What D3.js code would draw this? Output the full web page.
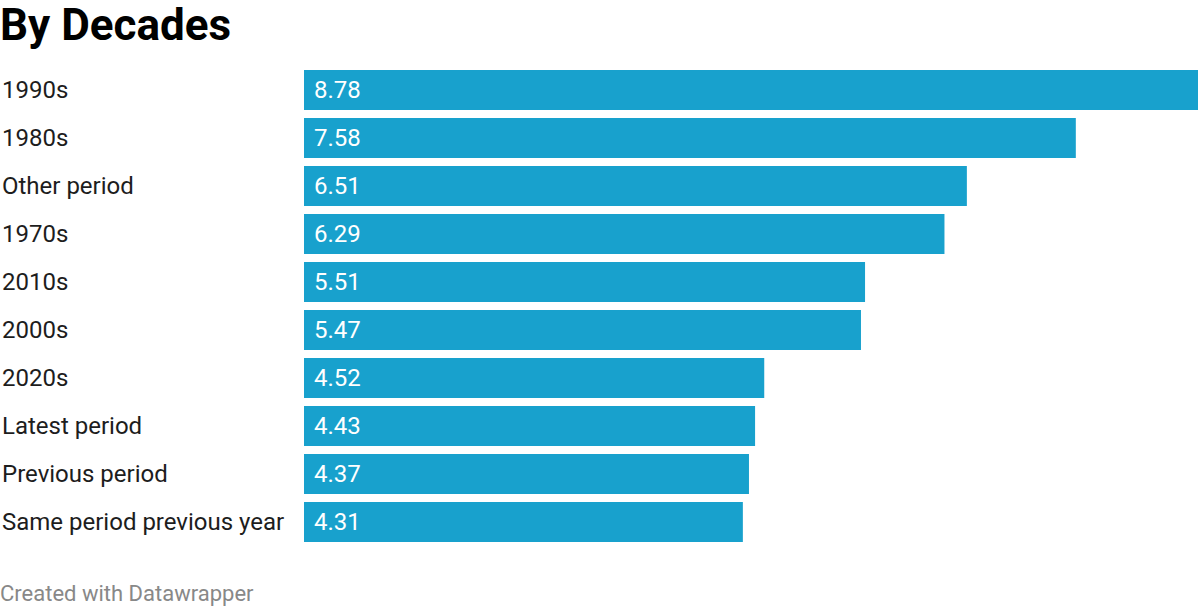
<!DOCTYPE html>
<html>
<head>
<meta charset="utf-8">
<script src="https://cdn.jsdelivr.net/npm/d3@7"></script>
<style>
  body { margin: 0; background: #fff; }
  svg text { font-family: Roboto, "Noto Sans", sans-serif; }
</style>
</head>
<body>
<svg id="chart" width="1200" height="608"></svg>
<script>
// data
const categories = ['1990s', '1980s', 'Other period', '1970s', '2010s', '2000s', '2020s',
  'Latest period', 'Previous period', 'Same period previous year'];
const values = [8.78, 7.58, 6.51, 6.29, 5.51, 5.47, 4.52, 4.43, 4.37, 4.31];

const svg = d3.select('#chart');
const margin = { top: 70, left: 304, right: 2 };
const width = 1200;
const step = 48, gap = 8;

const rows = categories.map((c, i) => ({ name: c, value: values[i] }));

const x = d3.scaleLinear()
    .domain([0, d3.max(values)])
    .range([margin.left, width - margin.right]);

// range chosen so the step is exactly 48px with an 8px gap
const y = d3.scaleBand()
    .domain(categories)
    .range([margin.top, margin.top + step * categories.length - gap])
    .paddingInner(gap / step)
    .paddingOuter(0);

// title
svg.append('text')
    .attr('x', 0)
    .attr('y', 40)
    .attr('font-size', 44)
    .attr('font-weight', 700)
    .attr('fill', '#000')
    .text('By Decades');

const g = svg.append('g');

g.selectAll('.bar')
    .data(rows)
    .join('rect')
    .attr('class', 'bar')
    .attr('x', x(0))
    .attr('y', d => y(d.name))
    .attr('width', d => x(d.value) - x(0))
    .attr('height', y.bandwidth())
    .attr('fill', '#18a1cd');

g.selectAll('.cat-label')
    .data(rows)
    .join('text')
    .attr('class', 'cat-label')
    .attr('x', 2)
    .attr('y', d => y(d.name) + y.bandwidth() / 2)
    .attr('dy', '0.35em')
    .attr('font-size', 24)
    .attr('fill', '#1d1d1d')
    .text(d => d.name);

g.selectAll('.val-label')
    .data(rows)
    .join('text')
    .attr('class', 'val-label')
    .attr('x', x(0) + 10)
    .attr('y', d => y(d.name) + y.bandwidth() / 2)
    .attr('dy', '0.35em')
    .attr('font-size', 24)
    .attr('fill', '#fff')
    .text(d => d.value.toFixed(2));

// footer
svg.append('text')
    .attr('x', 0)
    .attr('y', 601)
    .attr('font-size', 22)
    .attr('fill', '#888')
    .text('Created with Datawrapper');
</script>
</body>
</html>
